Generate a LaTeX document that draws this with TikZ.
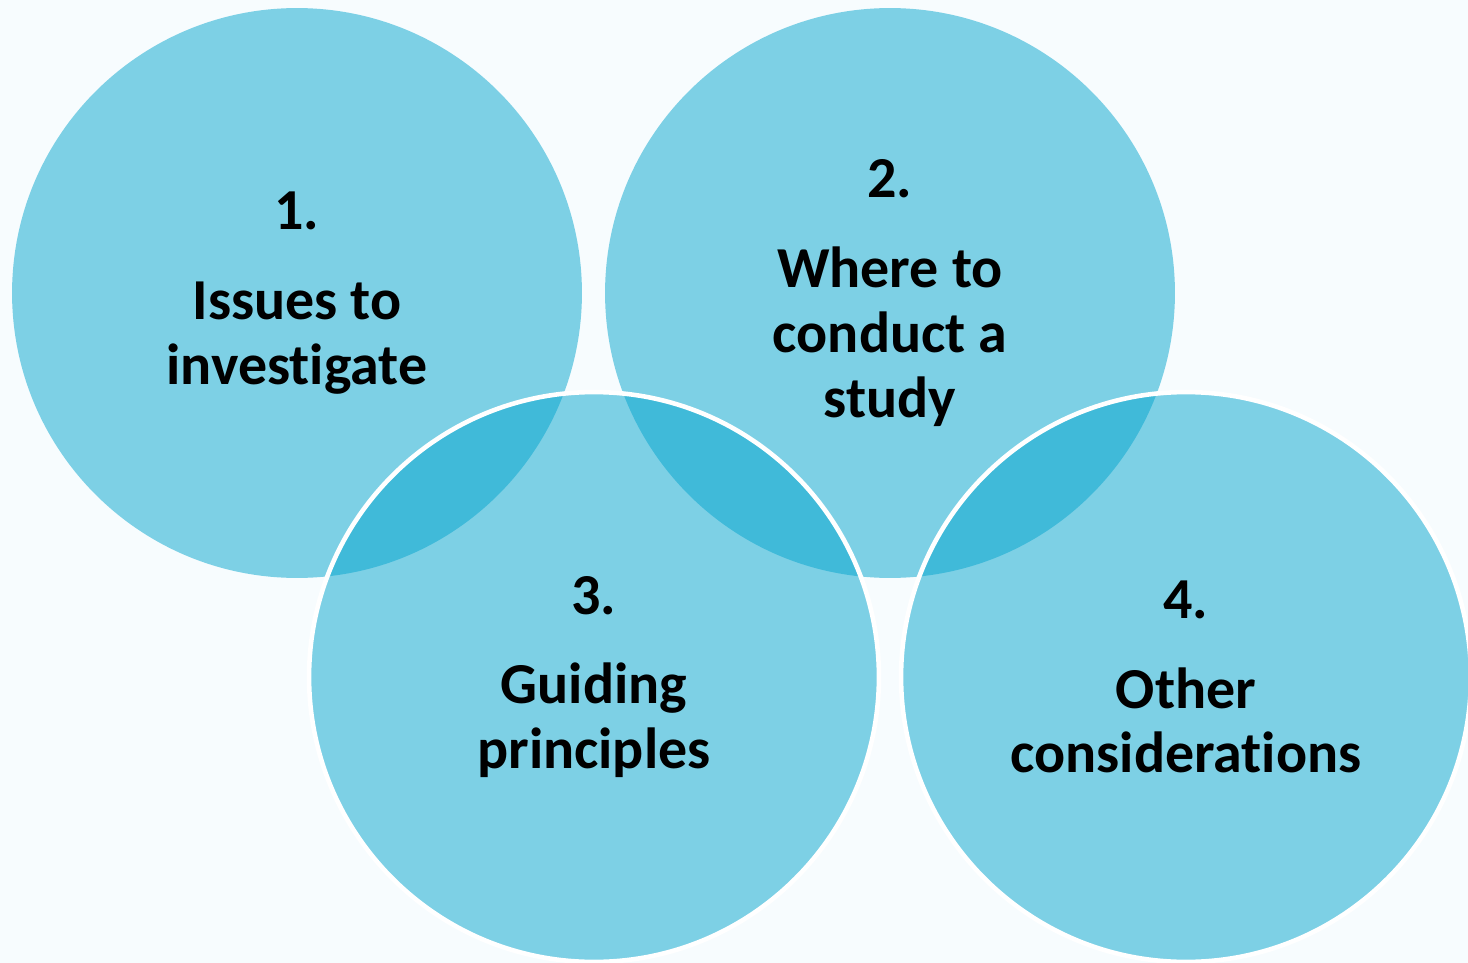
\documentclass[tikz,border=0pt]{standalone}
\usepackage{fontspec}
\setmainfont{Carlito}[RawFeature={-liga;-clig;-calt;-dlig}]

\definecolor{paper}{RGB}{247,252,254}
\definecolor{discblue}{RGB}{4,165,206}

\tikzset{
  disc/.style  ={circle,fill=discblue,fill opacity=0.5,text opacity=1,
                 minimum size=11.4cm,inner sep=0pt,align=center,
                 font=\bfseries\fontsize{33}{36.9}\selectfont},
  discedge/.style={disc,draw=white,draw opacity=1,line width=2.6pt},
}

\begin{document}
\begin{tikzpicture}[x=0.02cm, y=-0.02cm]

\fill[paper] (0,0) rectangle (1468,963);
\clip (0,0) rectangle (1468,963);

%% upper row
\node[disc] (issues) at (297,293)
      {1.\\[0.5cm]Issues to\\investigate};
\node[disc] (where)  at (890,293)
      {2.\\[0.5cm]Where to\\conduct a\\study};

%% lower row, drawn on top with a white rim
\node[discedge] (guide) at (594,677)
      {3.\\[0.5cm]Guiding\\principles};
\node[discedge] (other) at (1186,677)
      {4.\\[0.5cm]Other\\considerations};

\end{tikzpicture}
\end{document}
